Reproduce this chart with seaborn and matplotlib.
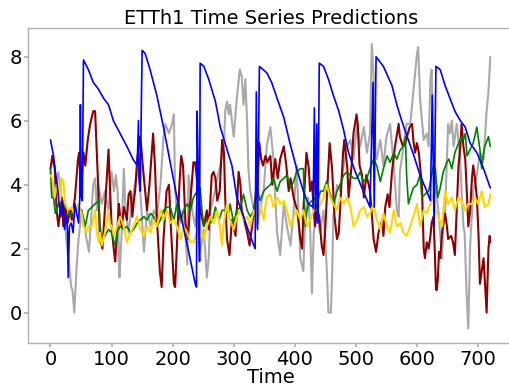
import matplotlib
matplotlib.use("Agg")
import matplotlib.pyplot as plt
import seaborn as sns
import pandas as pd

# ---------------- data: (time, value) ----------------
truth = [(0,4.4),(5,3.6),(13,4.4),(18,3.6),(24,2.7),(29,1.7),(34,0.8),(36,0.7),(39,0.0),(43,1.5),(46,2.3),
         (51,3.2),(55,2.8),(59,2.3),(63,1.9),(68,3.4),(70,4.0),(73,4.2),(76,3.2),(78,4.0),(84,3.4),(89,3.8),
         (95,3.2),(100,4.4),(104,3.8),(107,4.3),(110,3.8),(112,1.7),(113,1.1),(117,2.7),(120,4.5),(123,3.2),
         (128,2.5),(133,3.4),(139,4.1),(142,4.6),(147,3.8),(153,1.9),(158,3.2),(164,2.7),(169,3.2),(174,3.0),
         (180,4.0),(185,5.5),(188,5.9),(194,5.6),(199,5.9),(202,6.2),(204,3.8),(207,3.2),(213,2.8),(218,3.2),
         (224,1.5),(226,4.3),(232,3.2),(237,2.7),(240,3.4),(245,1.9),(251,2.6),(256,1.1),(259,1.7),(262,3.2),
         (267,3.6),(273,4.2),(278,4.6),(284,5.2),(286,6.3),(289,6.6),(292,6.2),(294,6.5),(300,5.5),(305,6.7),
         (310,7.6),(313,7.4),(316,6.5),(319,7.3),(322,5.9),(324,4.5),(327,3.8),(333,3.2),(338,2.7),(343,3.2),
         (349,3.8),(354,5.2),(360,5.8),(365,4.8),(368,3.6),(371,2.5),(376,1.8),(382,3.4),(387,2.7),(393,2.1),
         (398,3.2),(403,4.6),(409,1.7),(414,1.3),(417,3.0),(422,3.6),(425,2.7),(428,0.6),(431,2.5),(436,3.2),
         (441,2.5),(447,3.2),(452,1.5),(455,0.0),(459,0.0),(461,1.1),(463,3.0),(469,4.0),(474,3.8),(480,4.6),
         (485,5.2),(491,5.4),(496,4.8),(502,5.9),(507,5.2),(513,5.8),(518,5.0),(523,5.6),(526,8.4),(529,7.4),
         (532,5.0),(534,4.8),(540,5.4),(545,4.6),(550,5.5),(556,5.9),(562,4.6),(567,3.2),(570,3.0),(572,4.4),
         (578,5.2),(583,5.9),(589,5.9),(594,6.9),(600,8.1),(602,8.3),(605,6.7),(611,5.4),(616,5.6),(619,5.2),
         (622,7.3),(624,7.6),(626,5.9),(630,4.0),(635,3.2),(641,1.7),(643,2.7),(646,3.2),(651,5.9),(654,5.6),
         (657,6.0),(660,5.2),(665,5.9),(670,5.0),(676,2.7),(678,2.5),(681,0.7),(684,-0.5),(687,2.1),(692,3.8),
         (698,4.3),(703,5.0),(709,4.8),(714,6.3),(717,6.9),(720,8.0)]

red = [(0,4.5),(3,4.9),(7,4.5),(10,3.2),(13,2.7),(16,3.2),(18,3.6),(21,2.7),(24,3.4),(28,2.8),(32,3.2),
       (35,2.9),(40,3.6),(45,4.8),(47,5.0),(50,3.8),(54,5.0),(57,4.6),(61,5.4),(65,5.9),(70,6.3),(73,6.3),
       (78,4.0),(81,2.3),(85,2.0),(89,3.2),(95,5.1),(97,4.1),(100,2.7),(104,1.9),(106,1.6),(109,2.5),(112,3.4),
       (114,3.0),(117,2.7),(120,3.3),(125,2.9),(128,3.7),(131,3.8),(134,3.0),(136,3.4),(139,3.9),(142,4.8),
       (146,5.5),(148,5.3),(152,4.4),(155,3.8),(158,3.2),(162,4.0),(165,4.8),(168,5.6),(171,4.6),(174,3.0),
       (179,1.3),(182,0.8),(185,2.3),(190,3.8),(194,4.0),(197,2.7),(202,0.9),(204,0.8),(207,2.1),(211,4.0),
       (214,4.9),(217,4.6),(221,2.8),(225,2.3),(229,3.5),(234,4.7),(237,4.7),(240,4.1),(245,3.2),(251,2.7),
       (256,3.2),(259,2.6),(264,4.3),(267,4.4),(270,4.2),(273,3.5),(277,3.8),(281,5.4),(284,5.0),(286,3.6),
       (289,2.3),(293,1.8),(297,2.9),(303,2.4),(308,4.4),(311,4.0),(313,3.2),(317,2.9),(322,2.5),(326,2.1),
       (330,2.7),(335,3.5),(340,4.6),(342,5.3),(345,4.8),(348,4.6),(352,4.9),(355,4.7),(360,4.9),(363,4.0),
       (368,4.8),(372,4.2),(376,4.8),(382,5.2),(386,4.6),(390,3.8),(393,4.2),(398,3.6),(404,3.2),(409,2.3),
       (412,2.0),(414,3.2),(419,5.0),(423,4.5),(425,3.8),(428,4.1),(431,3.2),(433,2.7),(437,3.2),(440,3.0),
       (444,2.1),(447,1.8),(450,2.7),(453,3.8),(457,5.3),(461,4.5),(465,3.0),(469,2.3),(472,2.5),(474,3.2),
       (479,5.0),(481,5.4),(486,4.5),(488,3.6),(493,4.6),(496,5.6),(501,6.2),(503,5.9),(506,4.6),(510,4.3),
       (513,3.6),(517,4.3),(521,4.0),(523,3.8),(526,3.1),(529,2.3),(533,1.9),(537,2.5),(543,2.9),(545,2.4),
       (548,3.3),(552,3.7),(555,3.3),(559,4.4),(564,5.2),(570,5.9),(572,5.5),(577,5.2),(581,5.3),(585,5.6),
       (588,5.8),(592,5.9),(594,5.4),(597,5.0),(600,5.3),(603,5.0),(605,4.6),(608,4.0),(611,2.0),(613,1.7),
       (616,2.2),(619,2.0),(622,2.4),(624,2.8),(627,3.0),(629,2.0),(631,0.8),(632,0.7),(634,1.0),(636,1.9),
       (638,1.7),(641,2.5),(644,2.9),(646,3.1),(649,2.7),(651,2.3),(656,2.4),(659,2.2),(662,1.8),(665,3.2),
       (668,4.6),(671,5.2),(673,5.9),(676,5.2),(679,4.8),(682,3.6),(684,2.7),(687,3.2),(690,4.2),(692,4.6),
       (695,4.2),(698,3.6),(701,2.3),(703,0.9),(706,1.3),(709,1.7),(712,0.7),(714,0.0),(717,2.0),(719,2.4),
       (720,2.2)]

green = [(0,4.5),(2,3.6),(5,3.6),(8,3.1),(13,3.4),(19,3.4),(24,3.3),(29,3.2),(32,3.0),(35,3.2),(40,3.2),
         (46,3.3),(51,3.2),(57,2.7),(59,2.9),(62,3.2),(68,3.3),(73,3.4),(79,3.5),(81,2.7),(84,2.3),(89,2.4),
         (95,2.6),(100,2.5),(104,2.2),(106,2.1),(109,2.5),(114,2.7),(120,2.6),(125,2.7),(131,2.5),(136,2.6),
         (142,2.8),(147,2.9),(153,3.0),(158,2.9),(164,3.1),(169,3.0),(174,2.7),(180,2.9),(185,3.2),(191,3.3),
         (196,3.3),(202,2.9),(207,3.4),(213,2.9),(218,3.2),(224,3.4),(229,3.2),(234,3.6),(240,3.8),(245,3.9),
         (248,3.2),(251,2.7),(256,2.9),(262,2.8),(267,3.0),(270,3.3),(276,2.9),(281,3.2),(286,3.2),(292,3.1),
         (294,3.4),(300,2.8),(305,3.2),(311,3.3),(316,3.7),(322,3.2),(327,3.0),(333,3.2),(338,3.9),(343,3.5),
         (349,3.8),(354,3.9),(360,4.0),(365,4.2),(371,3.8),(376,4.1),(382,4.2),(387,4.3),(393,3.9),(398,4.1),
         (403,4.4),(409,4.5),(414,4.5),(417,2.7),(420,3.2),(423,3.4),(428,3.5),(433,3.6),(436,3.2),(439,3.6),
         (442,3.8),(447,3.8),(452,4.1),(458,3.7),(463,3.4),(469,3.8),(474,4.0),(480,4.3),(485,4.4),(491,4.3),
         (496,4.2),(502,4.2),(507,4.4),(512,4.1),(518,4.2),(523,4.5),(529,4.8),(534,4.6),(540,4.1),(545,4.5),
         (551,4.9),(556,4.7),(562,5.0),(567,4.8),(573,5.1),(578,5.2),(581,5.5),(583,4.3),(586,3.4),(589,3.6),
         (594,3.9),(600,4.0),(605,4.3),(608,3.6),(613,3.7),(619,3.8),(624,4.3),(627,4.6),(630,4.5),(634,3.6),
         (638,3.9),(643,4.4),(649,4.7),(652,4.8),(654,4.7),(657,4.5),(662,5.0),(668,5.3),(673,5.5),(676,5.4),
         (679,5.6),(682,4.9),(687,5.1),(692,5.3),(698,5.8),(700,5.5),(703,5.1),(706,4.5),(709,5.0),(711,5.2),
         (717,5.5),(720,5.2)]

gold = [(0,4.3),(3,4.2),(7,3.6),(10,4.0),(13,3.8),(16,3.5),(18,4.2),(21,4.1),(24,3.4),(29,3.2),(35,3.3),
        (40,3.0),(45,3.4),(49,3.2),(51,3.1),(54,2.7),(59,2.5),(62,2.7),(68,2.7),(73,3.2),(76,2.5),(79,2.2),
        (81,2.5),(84,2.1),(89,2.5),(95,3.2),(97,2.8),(100,2.7),(104,2.4),(109,2.7),(114,3.0),(120,2.7),
        (125,2.2),(131,2.5),(136,2.7),(142,3.0),(147,2.6),(153,2.4),(158,2.7),(164,2.5),(169,2.9),(174,2.7),
        (180,3.2),(185,2.9),(191,3.2),(196,2.8),(202,2.9),(207,2.7),(213,2.3),(218,2.7),(224,2.5),(229,2.2),
        (234,2.2),(240,2.5),(245,2.7),(251,2.3),(256,2.7),(262,3.0),(267,2.8),(273,3.2),(278,2.6),(281,2.1),
        (283,2.7),(289,3.4),(294,2.9),(300,2.6),(305,3.0),(311,3.2),(316,2.9),(322,3.0),(327,2.7),(333,3.2),
        (338,3.0),(343,3.4),(349,2.9),(354,3.6),(360,3.7),(365,3.3),(371,3.6),(376,3.4),(382,3.5),(387,3.2),
        (393,2.7),(398,3.0),(403,3.2),(409,2.9),(414,3.2),(420,2.7),(425,2.9),(431,3.2),(436,3.2),(442,3.4),
        (447,3.6),(452,4.0),(458,3.6),(463,3.4),(469,3.2),(474,3.6),(480,3.4),(485,3.6),(491,3.3),(496,2.7),
        (502,2.9),(507,3.2),(513,3.3),(518,3.0),(523,3.1),(529,3.4),(534,2.9),(540,2.6),(545,3.1),(551,2.7),
        (556,2.5),(562,3.2),(567,2.7),(573,2.8),(578,2.5),(583,2.4),(589,2.7),(594,3.0),(600,3.4),(605,2.7),
        (611,3.2),(616,3.1),(622,3.4),(627,3.7),(630,3.2),(635,3.0),(641,2.7),(646,3.8),(651,3.4),(657,3.6),
        (662,3.2),(668,3.6),(673,3.5),(679,3.2),(684,3.4),(690,3.4),(695,3.6),(700,3.4),(706,3.8),(711,3.3),
        (717,3.4),(720,3.7)]

blue = [(0,5.4),(3,5.1),(5,4.9),(8,4.4),(11,4.0),(14,3.4),(17,3.0),(20,3.5),(23,2.6),(26,3.1),(28,2.5),
        (29,1.1),(31,2.7),(34,2.8),(37,2.5),(40,3.4),(43,3.1),(46,2.8),(48,3.6),(49,6.5),(50,3.7),(52,3.5),
        (54,7.9),(62,7.6),(70,7.2),(78,7.0),(87,6.7),(95,6.5),(103,6.0),(114,5.6),(125,5.2),(135,4.8),
        (142,4.6),(144,6.0),(145,4.2),(147,3.8),(149,6.9),(150,8.2),(155,8.1),(163,7.6),(174,6.8),(185,5.8),
        (196,4.7),(207,3.6),(223,2.2),(237,0.9),(239,0.8),(240,6.3),(242,4.4),(244,1.6),(245,7.8),(251,7.7),
        (259,7.3),(270,6.6),(278,5.8),(289,5.1),(297,4.6),(305,3.6),(316,3.0),(327,2.4),(335,2.0),(337,6.9),
        (339,2.6),(342,7.7),(354,7.5),(362,7.2),(371,6.7),(382,6.1),(392,5.3),(403,4.5),(414,3.8),(422,3.4),
        (430,3.3),(432,6.4),(434,2.8),(436,5.9),(438,2.8),(440,7.8),(447,7.7),(455,7.3),(463,6.8),(472,6.3),
        (480,5.7),(488,5.0),(499,4.4),(512,3.8),(523,3.3),(528,7.2),(530,3.3),(533,8.0),(545,7.7),(559,7.1),
        (567,6.5),(575,6.0),(584,5.5),(595,4.9),(605,4.3),(616,3.8),(622,3.5),(625,6.8),(628,2.7),(631,7.7),
        (638,7.6),(646,7.1),(654,6.7),(662,6.3),(671,6.0),(679,5.8),(687,5.3),(698,5.0),(709,4.5),(720,3.9)]

series = [
    ("Ground truth", truth, "#a9a9a9", 1.5),
    ("Model A", red, "#8b0000", 1.5),
    ("Model B", green, "#008000", 1.2),
    ("Model C", gold, "#ffd700", 1.5),
    ("Model D", blue, "#0000ff", 1.2),
]

# ---------------- plot ----------------
sns.set_theme(style="white")
plt.rcParams.update({
    "font.family": ["DejaVu Sans"],
    "text.color": "black",
    "axes.labelcolor": "black",
    "axes.edgecolor": "#b0b0b0",
    "axes.linewidth": 1.0,
    "xtick.bottom": True,
    "ytick.left": True,
    "xtick.color": "#b0b0b0",
    "ytick.color": "#b0b0b0",
    "xtick.labelcolor": "black",
    "ytick.labelcolor": "black",
    "xtick.major.size": 3,
    "ytick.major.size": 3,
    "xtick.major.pad": 2,
    "ytick.major.pad": 2,
})

fig = plt.figure(figsize=(5.10, 3.89), dpi=100)
ax = fig.add_axes([28.5 / 510, 46 / 389, 485 / 510, 315 / 389])

for name, pts, color, lw in series:
    t, v = zip(*pts)
    df = pd.DataFrame({"Time": t, "Value": v})
    sns.lineplot(data=df, x="Time", y="Value", ax=ax, color=color, linewidth=lw,
                 estimator=None, sort=False)

ax.spines["right"].set_visible(False)
ax.set_xlim(-36, 758)
ax.set_ylim(-0.95, 8.9)
ax.set_xticks([0, 100, 200, 300, 400, 500, 600, 700])
ax.set_yticks([0, 2, 4, 6, 8])
ax.tick_params(labelsize=14)
ax.set_title("ETTh1 Time Series Predictions", fontsize=14, pad=3, color="black")
ax.set_xlabel("Time", fontsize=14, labelpad=-1, color="black")
ax.set_ylabel("")

fig.savefig("out.png", dpi=100)
